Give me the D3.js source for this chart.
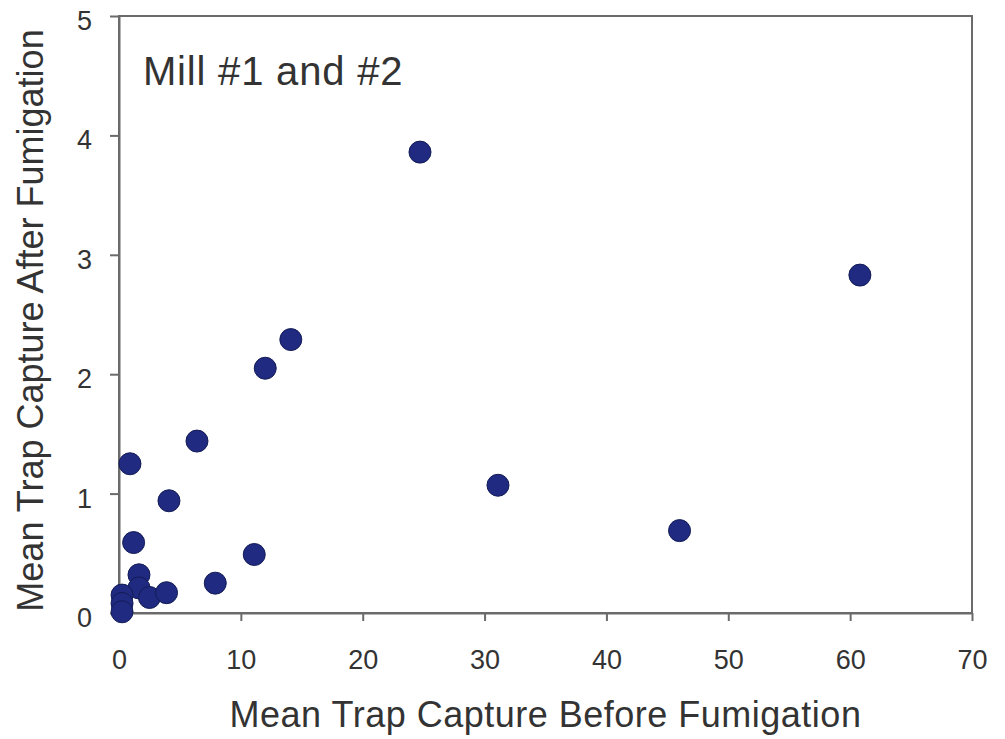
<html>
<head>
    <script src="https://d3js.org/d3.v7.min.js"></script>
    <style>
        body { margin: 0; background: #fff; }
        svg text { font-family: "Liberation Sans", Arial, sans-serif; fill: #333; }
    </style>
</head>
<body>
<div id="chart"></div>
<script>
    // mean trap capture before / after fumigation, mills 1 and 2
    var before = [24.7, 60.8, 14.1, 12.0, 6.4, 0.9, 4.1, 31.1, 46.0, 11.1, 1.2, 7.9,
                  1.64, 1.64, 2.5, 3.9, 0.25, 0.25, 0.25];
    var after  = [3.86, 2.83, 2.29, 2.05, 1.44, 1.25, 0.94, 1.07, 0.69, 0.49, 0.59, 0.25,
                  0.32, 0.21, 0.13, 0.17, 0.15, 0.08, 0.01];
    var xTicks = [0, 10, 20, 30, 40, 50, 60, 70];
    var yTicks = [0, 1, 2, 3, 4, 5];

    var width = 1005, height = 739;
    var margin = {top: 16, right: 33, bottom: 126, left: 119};

    var svg = d3.select("#chart").append("svg")
        .attr("width", width)
        .attr("height", height);

    var x = d3.scaleLinear().domain([0, 70]).range([margin.left, width - margin.right]);
    var y = d3.scaleLinear().domain([0, 5]).range([height - margin.bottom, margin.top]);

    var axisColor = "#6b6b6b";

    // frame
    svg.append("rect")
        .attr("x", x(0)).attr("y", y(5))
        .attr("width", x(70) - x(0)).attr("height", y(0) - y(5))
        .attr("fill", "none")
        .attr("stroke", axisColor)
        .attr("stroke-width", 2);

    var xAxis = svg.append("g")
        .attr("transform", "translate(0," + y(0) + ")")
        .call(d3.axisBottom(x).tickValues(xTicks).tickFormat(d3.format("d"))
            .tickSize(8).tickPadding(29).tickSizeOuter(0));
    var yAxis = svg.append("g")
        .attr("transform", "translate(" + x(0) + ",0)")
        .call(d3.axisLeft(y).tickValues(yTicks).tickFormat(d3.format("d"))
            .tickSize(9).tickPadding(18).tickSizeOuter(0));

    [xAxis, yAxis].forEach(function(a) {
        a.select(".domain").attr("stroke", axisColor).attr("stroke-width", 2);
        a.selectAll(".tick line").attr("stroke", axisColor).attr("stroke-width", 2);
        a.selectAll(".tick text").attr("font-size", 27).attr("fill", "#3a3a3a")
            .style("font-family", "'Liberation Sans', Arial, sans-serif");
    });
    yAxis.selectAll(".tick text").attr("dy", "0.5em");

    // points
    var pts = before.map(function(d, i) { return [d, after[i]]; });
    svg.append("g").selectAll("circle")
        .data(pts)
        .enter()
        .append("circle")
        .attr("cx", function(d) { return x(d[0]); })
        .attr("cy", function(d) { return y(d[1]); })
        .attr("r", 11)
        .attr("fill", "#1f2a80")
        .attr("stroke", "#141c55")
        .attr("stroke-width", 1);

    svg.append("text")
        .attr("x", 143).attr("y", 85)
        .attr("font-size", 40)
        .attr("letter-spacing", 0.8)
        .text("Mill #1 and #2");

    svg.append("text")
        .attr("x", (x(0) + x(70)) / 2).attr("y", 727)
        .attr("text-anchor", "middle")
        .attr("font-size", 36)
        .attr("letter-spacing", 0.5)
        .text("Mean Trap Capture Before Fumigation");

    svg.append("text")
        .attr("transform", "translate(43," + ((y(0) + y(5)) / 2 + 6) + ") rotate(-90)")
        .attr("text-anchor", "middle")
        .attr("font-size", 36)
        .text("Mean Trap Capture After Fumigation");
</script>
</body>
</html>
